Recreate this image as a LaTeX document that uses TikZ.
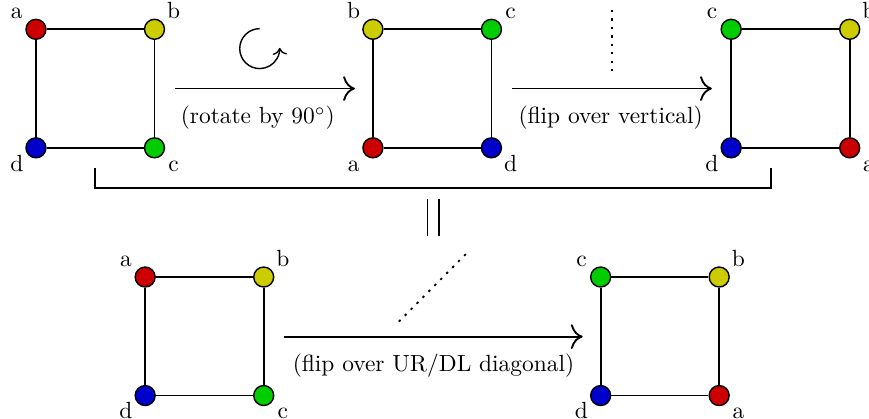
\documentclass[tikz,border=0pt]{standalone}
\usepackage{amsmath,amssymb}
\usepackage{xcolor}
\usetikzlibrary{positioning}
\usetikzlibrary{arrows, arrows.meta}
\definecolor{rubyred}{rgb}{0.8, 0, 0}
\definecolor{mustard}{rgb}{0.8, 0.8, 0}
\definecolor{leafgreen}{rgb}{0, 0.8, 0}
\definecolor{inkblue}{rgb}{0, 0, 0.8}
\tikzstyle{corner} = [circle, draw=black, semithick, minimum size=0.3cm, inner sep=0pt]
\tikzstyle{edge} = [thick]
\tikzstyle{arrow} = [thick,-{To[scale=1.5]}]
\tikzstyle{axis} = [thick, dash pattern=on 1pt off 2.6pt]
\tikzset{
  every label/.style={inner sep=0pt, text height=7pt, text depth=0pt},
  tagnw/.style={label={[xshift=-8.2pt, yshift=8pt]center:#1}},
  tagne/.style={label={[xshift=8.2pt, yshift=8pt]center:#1}},
  tagsw/.style={label={[xshift=-8.2pt, yshift=-6.5pt]center:#1}},
  tagse/.style={label={[xshift=8.2pt, yshift=-6.5pt]center:#1}}
}

\begin{document}
\begin{tikzpicture}
      \useasboundingbox (0,0) rectangle (13.05,6.29);
      % square 1
      \node (a1) at (0.54,5.85) [corner, fill=rubyred, tagnw=a] {};
      \node (b1) at (2.32,5.85) [corner, fill=mustard, tagne=b] {};
      \node (c1) at (2.32,4.07) [corner, fill=leafgreen, tagse=c] {};
      \node (d1) at (0.54,4.07) [corner, fill=inkblue, tagsw=d] {};
      % square 2
      \node (b2) at (5.60,5.85) [corner, fill=mustard, tagnw=b] {};
      \node (c2) at (7.38,5.85) [corner, fill=leafgreen, tagne=c] {};
      \node (d2) at (7.38,4.07) [corner, fill=inkblue, tagse=d] {};
      \node (a2) at (5.60,4.07) [corner, fill=rubyred, tagsw=a] {};
      % square 3
      \node (c3) at (10.98,5.85) [corner, fill=leafgreen, tagnw=c] {};
      \node (b3) at (12.76,5.85) [corner, fill=mustard, tagne=b] {};
      \node (a3) at (12.76,4.07) [corner, fill=rubyred, tagse=a] {};
      \node (d3) at (10.98,4.07) [corner, fill=inkblue, tagsw=d] {};
      % square 4
      \node (a4) at (2.18,2.13) [corner, fill=rubyred, tagnw=a] {};
      \node (b4) at (3.96,2.13) [corner, fill=mustard, tagne=b] {};
      \node (c4) at (3.96,0.35) [corner, fill=leafgreen, tagse=c] {};
      \node (d4) at (2.18,0.35) [corner, fill=inkblue, tagsw=d] {};
      % square 5
      \node (c5) at (9.02,2.13) [corner, fill=leafgreen, tagnw=c] {};
      \node (b5) at (10.80,2.13) [corner, fill=mustard, tagne=b] {};
      \node (a5) at (10.80,0.35) [corner, fill=rubyred, tagse=a] {};
      \node (d5) at (9.02,0.35) [corner, fill=inkblue, tagsw=d] {};
      \draw[edge] (a1)--(b1);
      \draw[edge] (b1)--(c1);
      \draw[edge] (c1)--(d1);
      \draw[edge] (d1)--(a1);
      \draw[edge] (b2)--(c2);
      \draw[edge] (c2)--(d2);
      \draw[edge] (d2)--(a2);
      \draw[edge] (a2)--(b2);
      \draw[edge] (c3)--(b3);
      \draw[edge] (b3)--(a3);
      \draw[edge] (a3)--(d3);
      \draw[edge] (d3)--(c3);
      \draw[edge] (a4)--(b4);
      \draw[edge] (b4)--(c4);
      \draw[edge] (c4)--(d4);
      \draw[edge] (d4)--(a4);
      \draw[edge] (c5)--(b5);
      \draw[edge] (b5)--(a5);
      \draw[edge] (a5)--(d5);
      \draw[edge] (d5)--(c5);
      % moves
      \coordinate (s1) at (2.63,4.96);
      \coordinate (t1) at (5.33,4.96);
      \coordinate (s2) at (7.69,4.96);
      \coordinate (t2) at (10.69,4.96);
      \coordinate (s3) at (4.26,1.235);
      \coordinate (t3) at (8.75,1.235);
      \draw[arrow] (s1)--(t1);
      \draw[arrow] (s2)--(t2);
      \draw[arrow] (s3)--(t3);
      \node (m1) at (3.87,4.52) {(rotate by 90$^\circ$)};
      \node (m2) at (9.17,4.52) {(flip over vertical)};
      \node (m3) at (6.51,0.80) {(flip over UR/DL diagonal)};
      \coordinate (rot) at (3.90,5.56);
      \draw[semithick,->] ([yshift=0.3cm]rot) arc (90:362:0.3);
      \coordinate (v1) at (9.19,6.14);
      \coordinate (v2) at (9.19,5.21);
      \draw[axis] (v1)--(v2);
      \coordinate (g1) at (5.99,1.46);
      \coordinate (g2) at (7.01,2.49);
      \draw[axis] (g1)--(g2);
      % composition
      \coordinate (k1) at (1.43,3.77);
      \coordinate (k2) at (1.43,3.47);
      \coordinate (k3) at (11.58,3.47);
      \coordinate (k4) at (11.58,3.77);
      \draw[edge] (k1)--(k2)--(k3)--(k4);
      \coordinate (e1) at (6.42,3.30);
      \coordinate (e2) at (6.42,2.75);
      \coordinate (e3) at (6.59,3.30);
      \coordinate (e4) at (6.59,2.75);
      \draw[semithick] (e1)--(e2);
      \draw[semithick] (e3)--(e4);
      \end{tikzpicture}
\end{document}
